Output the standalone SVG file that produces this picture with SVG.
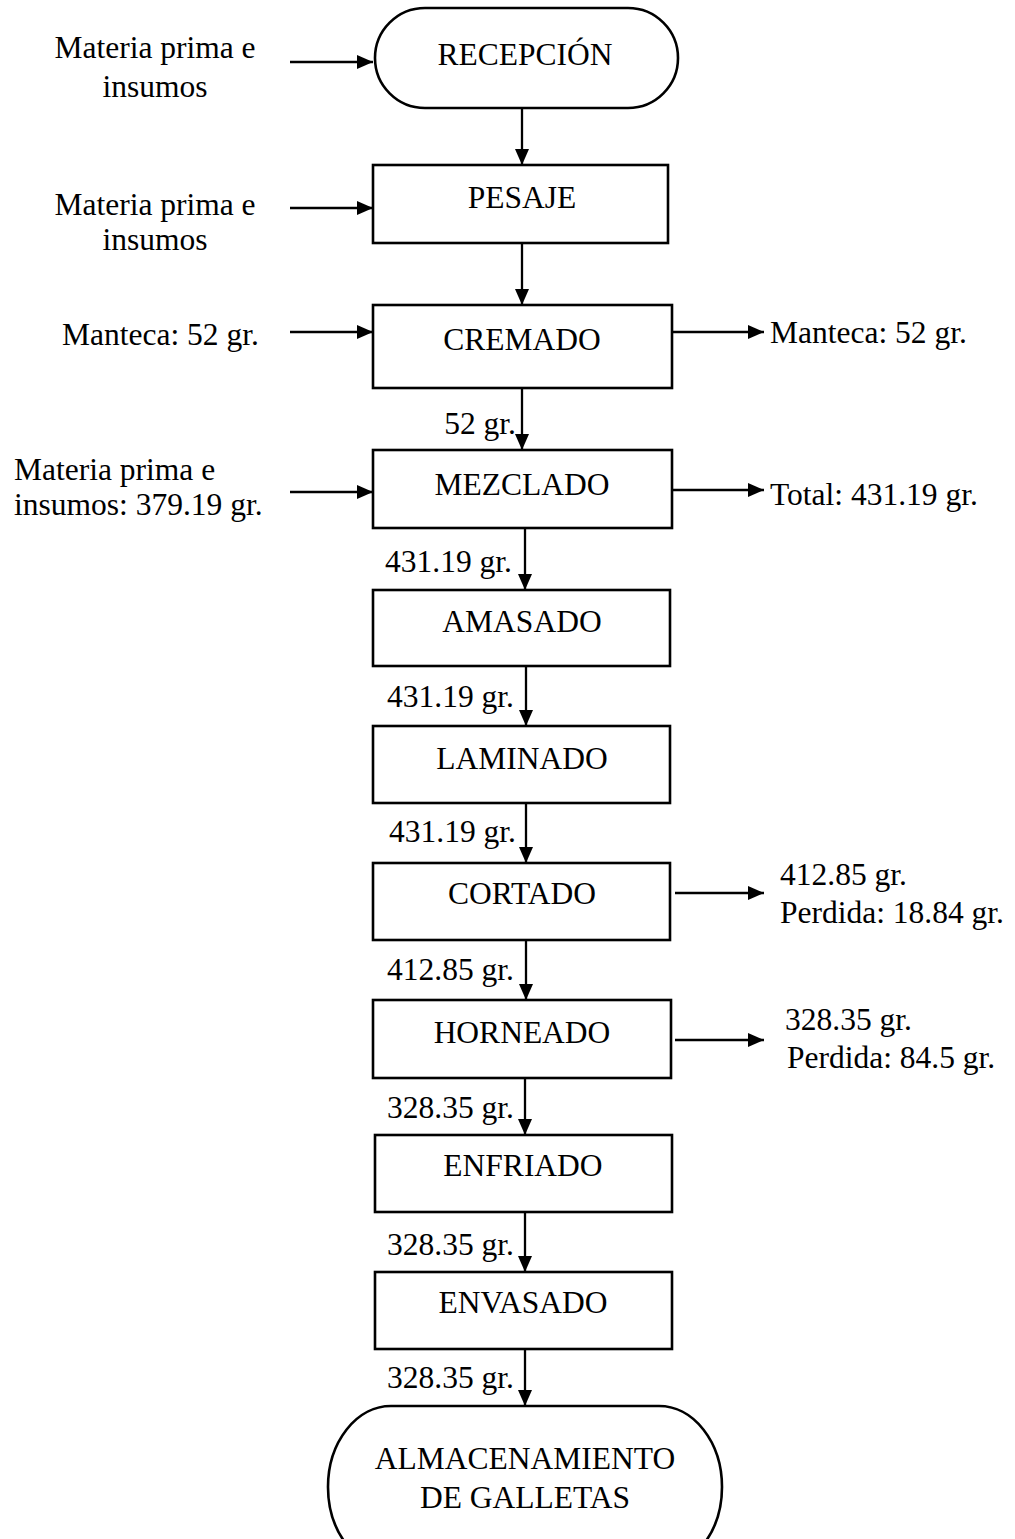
<svg xmlns="http://www.w3.org/2000/svg" width="1015" height="1539" viewBox="0 0 1015 1539">
<defs>
<marker id="ah" viewBox="0 0 16 14" refX="16" refY="7" markerWidth="16" markerHeight="14" markerUnits="userSpaceOnUse" orient="auto">
<path d="M0,0 L16,7 L0,14 Z" fill="#000"/>
</marker>
</defs>
<style>
.box{fill:#fff;stroke:#000;stroke-width:2.6}
.t{font-family:"Liberation Serif","Times New Roman",serif;font-size:31.5px;fill:#000}
.c{text-anchor:middle}
.e{text-anchor:end}
.ln{stroke:#000;stroke-width:2.3;fill:none;marker-end:url(#ah)}
</style>
<rect width="1015" height="1539" fill="#fff"/>
<g id="connectors">
<line class="ln" x1="290" y1="62" x2="373" y2="62"/>
<line class="ln" x1="522" y1="108" x2="522" y2="165"/>
<line class="ln" x1="290" y1="208" x2="373" y2="208"/>
<line class="ln" x1="522" y1="243" x2="522" y2="305"/>
<line class="ln" x1="290" y1="332" x2="373" y2="332"/>
<line class="ln" x1="672" y1="332" x2="764" y2="332"/>
<line class="ln" x1="522" y1="388" x2="522" y2="450"/>
<line class="ln" x1="290" y1="492" x2="373" y2="492"/>
<line class="ln" x1="672" y1="490" x2="764" y2="490"/>
<line class="ln" x1="525" y1="528" x2="525" y2="590"/>
<line class="ln" x1="526" y1="666" x2="526" y2="726"/>
<line class="ln" x1="526" y1="803" x2="526" y2="863"/>
<line class="ln" x1="675" y1="893" x2="764" y2="893"/>
<line class="ln" x1="526" y1="940" x2="526" y2="1000"/>
<line class="ln" x1="675" y1="1040" x2="764" y2="1040"/>
<line class="ln" x1="525" y1="1078" x2="525" y2="1135"/>
<line class="ln" x1="525" y1="1212" x2="525" y2="1272"/>
<line class="ln" x1="525" y1="1349" x2="525" y2="1406"/>
</g>
<g id="recepcion">
<rect class="box" x="375" y="8" width="303" height="100" rx="50" ry="50"/>
<text class="t c" x="525" y="65">RECEPCIÓN</text>
</g>
<g id="in1">
<text class="t c" x="155" y="58">Materia prima e</text>
<text class="t c" x="155" y="97">insumos</text>
</g>
<g id="pesaje">
<rect class="box" x="373" y="165" width="295" height="78"/>
<text class="t c" x="522" y="208">PESAJE</text>
</g>
<g id="in2">
<text class="t c" x="155" y="215">Materia prima e</text>
<text class="t c" x="155" y="250">insumos</text>
</g>
<g id="cremado">
<rect class="box" x="373" y="305" width="299" height="83"/>
<text class="t c" x="522" y="350">CREMADO</text>
</g>
<g id="in3"><text class="t" x="62" y="345">Manteca: 52 gr.</text></g>
<g id="out3"><text class="t" x="770" y="343">Manteca: 52 gr.</text></g>
<g id="l1"><text class="t e" x="516" y="434">52 gr.</text></g>
<g id="mezclado">
<rect class="box" x="373" y="450" width="299" height="78"/>
<text class="t c" x="522" y="495">MEZCLADO</text>
</g>
<g id="in4">
<text class="t" x="14" y="480">Materia prima e</text>
<text class="t" x="14" y="515">insumos: 379.19 gr.</text>
</g>
<g id="out4"><text class="t" x="770" y="505">Total: 431.19 gr.</text></g>
<g id="l2"><text class="t e" x="512" y="572">431.19 gr.</text></g>
<g id="amasado">
<rect class="box" x="373" y="590" width="297" height="76"/>
<text class="t c" x="522" y="632">AMASADO</text>
</g>
<g id="l3"><text class="t e" x="514" y="707">431.19 gr.</text></g>
<g id="laminado">
<rect class="box" x="373" y="726" width="297" height="77"/>
<text class="t c" x="522" y="769">LAMINADO</text>
</g>
<g id="l4"><text class="t e" x="516" y="842">431.19 gr.</text></g>
<g id="cortado">
<rect class="box" x="373" y="863" width="297" height="77"/>
<text class="t c" x="522" y="904">CORTADO</text>
</g>
<g id="out5">
<text class="t" x="780" y="885">412.85 gr.</text>
<text class="t" x="780" y="923">Perdida: 18.84 gr.</text>
</g>
<g id="l5"><text class="t e" x="514" y="980">412.85 gr.</text></g>
<g id="horneado">
<rect class="box" x="373" y="1000" width="298" height="78"/>
<text class="t c" x="522" y="1043">HORNEADO</text>
</g>
<g id="out6">
<text class="t" x="785" y="1030">328.35 gr.</text>
<text class="t" x="787" y="1068">Perdida: 84.5 gr.</text>
</g>
<g id="l6"><text class="t e" x="514" y="1118">328.35 gr.</text></g>
<g id="enfriado">
<rect class="box" x="375" y="1135" width="297" height="77"/>
<text class="t c" x="523" y="1176">ENFRIADO</text>
</g>
<g id="l7"><text class="t e" x="514" y="1255">328.35 gr.</text></g>
<g id="envasado">
<rect class="box" x="375" y="1272" width="297" height="77"/>
<text class="t c" x="523" y="1313">ENVASADO</text>
</g>
<g id="l8"><text class="t e" x="514" y="1388">328.35 gr.</text></g>
<g id="almacenamiento">
<rect class="box" x="328" y="1406" width="394" height="162" rx="63" ry="81"/>
<text class="t c" x="525" y="1469">ALMACENAMIENTO</text>
<text class="t c" x="525" y="1508">DE GALLETAS</text>
</g>
</svg>
